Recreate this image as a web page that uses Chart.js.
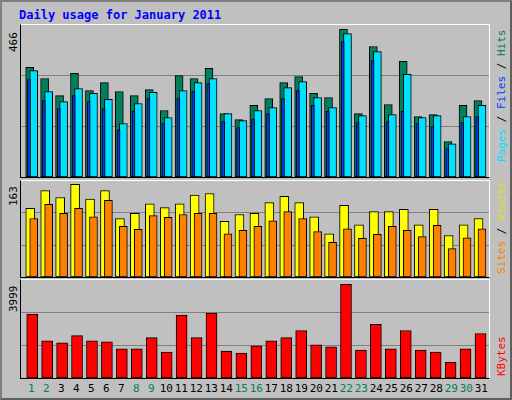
<!DOCTYPE html>
<html>
<head>
<meta charset="utf-8">
<script src="https://cdn.jsdelivr.net/npm/chart.js@4"></script>
<style>
  body { margin: 0; width: 512px; height: 400px; background: #c0c0c0; overflow: hidden; font-family: "DejaVu Sans Mono", monospace; }
  #frame { position: absolute; left: 0; top: 0; width: 508px; height: 396px; border: 2px solid #808080; border-right-color: #606060; border-bottom-color: #606060; }
  .panel { position: absolute; left: 20px; width: 470px; border-left: 1px solid #000; border-bottom: 1px solid #000; border-top: 1px solid #fff; border-right: 1px solid #fff; box-sizing: border-box; }
  .panel canvas { display: block; }
  .txt { position: absolute; font-size: 11px; white-space: nowrap; }
  .rot { transform-origin: left top; transform: rotate(-90deg); }
  #title { left: 19px; top: 8px; color: #0000ff; font-weight: bold; font-size: 12px; }
  .day { position: absolute; top: 382px; font-size: 11px; width: 16px; text-align: center; }
</style>
</head>
<body>
<div id="frame"></div>
<div class="txt" id="title">Daily usage for January 2011</div>

<div class="panel" style="top:24px;height:154px"><canvas id="c1"></canvas></div>
<div class="panel" style="top:180px;height:98px"><canvas id="c2"></canvas></div>
<div class="panel" style="top:279px;height:100px"><canvas id="c3"></canvas></div>

<div class="txt rot" style="left:7px;top:52px">466</div>
<div class="txt rot" style="left:7px;top:206px">163</div>
<div class="txt rot" style="left:7px;top:312px">3999</div>

<div class="txt rot" style="left:495px;top:162px"><span style="color:#00e0ff">Pages</span> / <span style="color:#0040ff">Files</span> / <span style="color:#00805c">Hits</span></div>
<div class="txt rot" style="left:495px;top:274px"><span style="color:#ff8000">Sites</span> / <span style="color:#e0e000">Visits</span></div>
<div class="txt rot" style="left:495px;top:376px;color:#ff0000">KBytes</div>

<div id="days"></div>

<script>
// Data
const days = Array.from({length: 31}, (_, i) => String(i + 1));
const weekend = [1, 2, 8, 9, 15, 16, 22, 23, 29, 30];
const hits  = [346, 311, 257, 327, 273, 298, 270, 257, 276, 210, 320, 311, 343, 200, 181, 226, 248, 298, 317, 264, 251, 466, 200, 412, 229, 365, 191, 197, 112, 226, 241];
const files = [336, 270, 238, 279, 264, 245, 169, 232, 267, 188, 273, 298, 311, 200, 178, 210, 219, 282, 301, 251, 219, 453, 194, 396, 197, 324, 188, 194, 105, 191, 226];
const pages = [308, 241, 216, 257, 238, 216, 147, 207, 248, 169, 248, 270, 295, 175, 156, 184, 200, 248, 273, 226, 207, 428, 172, 368, 175, 207, 169, 159, 90, 172, 191];
const visits = [121, 152, 140, 163, 137, 152, 103, 112, 129, 122, 129, 144, 147, 98, 110, 112, 131, 142, 131, 106, 76, 126, 92, 115, 115, 119, 92, 119, 73, 92, 103];
const sites  = [103, 128, 112, 121, 106, 135, 89, 84, 108, 105, 110, 112, 112, 76, 82, 89, 99, 115, 103, 80, 61, 85, 68, 75, 89, 82, 71, 91, 50, 69, 85];
const kbytes = [2730, 1591, 1504, 1810, 1591, 1548, 1241, 1241, 1723, 1110, 2686, 1723, 2774, 1153, 1066, 1372, 1591, 1723, 2029, 1416, 1329, 3999, 1197, 2292, 1241, 2029, 1197, 1110, 672, 1241, 1898];

const XMIN = 0.25, XMAX = 31.57;

function pts(arr, off) {
    return arr.map((v, i) => ({ x: i + 1 + off, y: v }));
}

function ds(arr, off, color, width) {
    return {
        data: pts(arr, off),
        backgroundColor: color,
        borderColor: '#000',
        borderWidth: 1,
        borderSkipped: false,
        barThickness: width,
        grouped: false
    };
}

function makeChart(id, w, h, ymax, datasets) {
    const cv = document.getElementById(id);
    cv.width = w; cv.height = h;
    cv.style.width = w + 'px'; cv.style.height = h + 'px';
    new Chart(cv, {
        type: 'bar',
        data: { datasets: datasets },
        options: {
            responsive: false,
            animation: false,
            layout: { padding: 0 },
            plugins: { legend: { display: false }, tooltip: { enabled: false } },
            scales: {
                x: { type: 'linear', min: XMIN, max: XMAX, offset: false, display: false },
                y: {
                    min: 0, max: ymax,
                    afterBuildTicks: s => { s.ticks = [{ value: ymax / 3 }, { value: ymax * 2 / 3 }]; },
                    ticks: { display: false },
                    border: { display: false },
                    grid: { color: '#808080', drawTicks: false, lineWidth: 1 }
                }
            }
        }
    });
}

makeChart('c1', 468, 152, 480, [
    ds(pages, -0.22, '#0040ff', 3),
    ds(files, 0.1, '#00e0ff', 8),
    ds(hits, -0.17, '#00805c', 8)
]);
makeChart('c2', 468, 96, 169, [
    ds(sites, 0.1, '#ff8000', 8),
    ds(visits, -0.13, '#ffff00', 9)
]);
makeChart('c3', 468, 98, 4183, [
    ds(kbytes, 0, '#ff0000', 11)
]);

// day labels
const box = document.getElementById('days');
days.forEach((d, i) => {
    const el = document.createElement('div');
    el.className = 'day';
    el.textContent = d;
    el.style.left = (20 + 11.3 + i * 15 - 8) + 'px';
    el.style.color = weekend.includes(i + 1) ? '#00805c' : '#000';
    box.appendChild(el);
});
</script>
</body>
</html>
